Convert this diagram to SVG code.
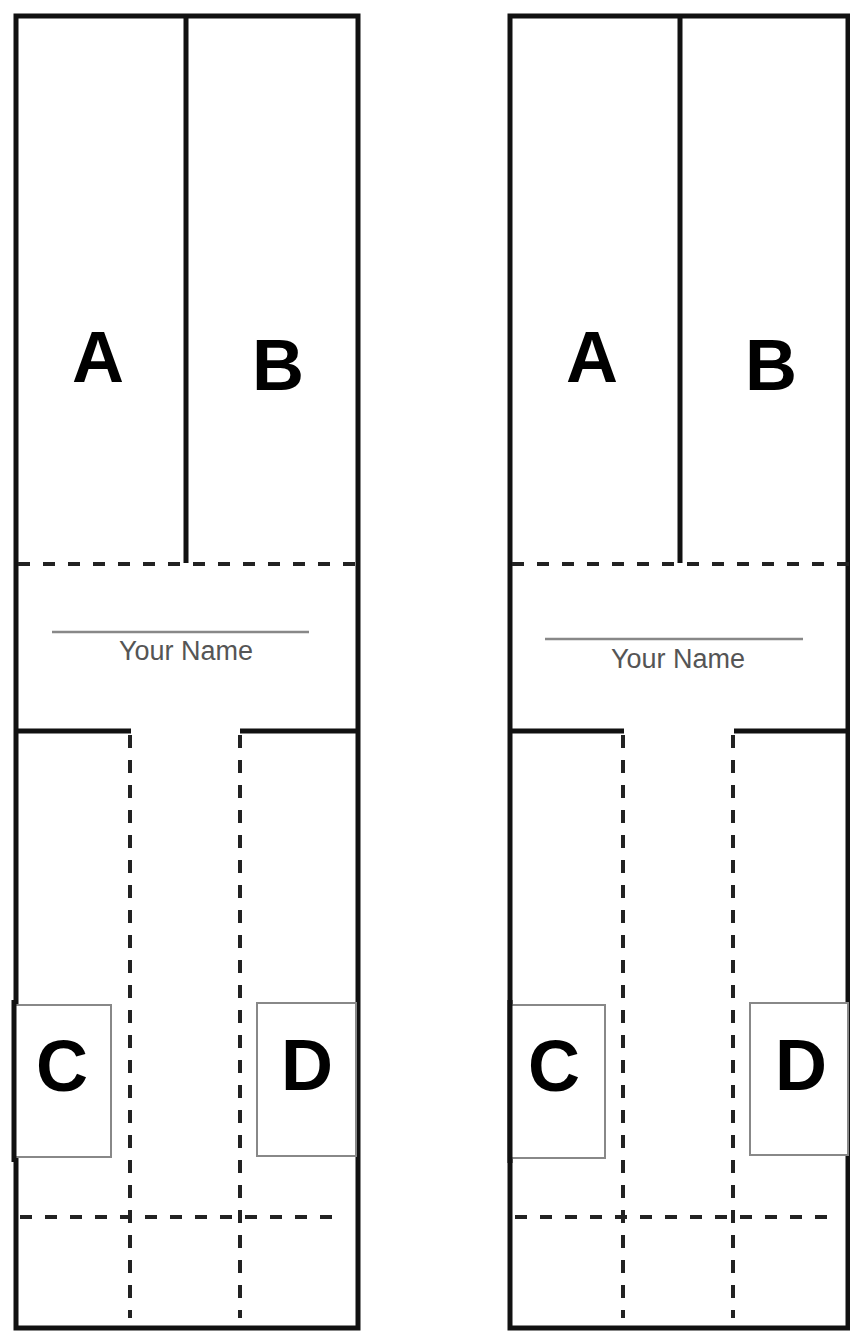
<svg xmlns="http://www.w3.org/2000/svg" width="850" height="1332" viewBox="0 0 850 1332">
<style>
.border{fill:none;stroke:#111;stroke-width:5}
.solid{stroke:#111;stroke-width:5;fill:none}
.fold{stroke:#222;stroke-width:4;stroke-dasharray:12 13;fill:none}
.vfold{stroke:#222;stroke-width:4;stroke-dasharray:13 12;fill:none}
.box{fill:#fff;stroke:#888;stroke-width:2}
.nameline{stroke:#888;stroke-width:2.5}
.big{font-family:"Liberation Sans",Arial,sans-serif;font-weight:bold;font-size:72px;fill:#000;text-anchor:middle}
.name{font-family:"Liberation Sans",Arial,sans-serif;font-size:27px;fill:#555;text-anchor:middle}
</style>
<rect width="850" height="1332" fill="#fff"/>

<g id="panel-left">
  <rect class="border" x="16" y="16" width="342" height="1312"/>
  <g id="left-A"><text class="big" x="98" y="382">A</text></g>
  <g id="left-B"><text class="big" x="278" y="390">B</text></g>
  <line class="solid" x1="186" y1="16" x2="186" y2="563"/>
  <g id="left-name">
    <line class="nameline" x1="52" y1="632" x2="309" y2="632"/>
    <text class="name" x="186" y="660">Your Name</text>
  </g>
  <line class="solid" x1="18" y1="731" x2="131" y2="731"/>
  <line class="solid" x1="240" y1="731" x2="356" y2="731"/>
  <g id="left-C">
    <rect class="box" x="14" y="1005" width="97" height="152"/>
    <line class="solid" x1="14" y1="1000" x2="14" y2="1162"/>
    <text class="big" x="62" y="1091">C</text>
  </g>
  <g id="left-D">
    <rect class="box" x="257" y="1003" width="99" height="153"/>
    <text class="big" x="307" y="1090">D</text>
  </g>
</g>

<g id="panel-right">
  <rect class="border" x="510" y="16" width="338" height="1312"/>
  <g id="right-A"><text class="big" x="592" y="382">A</text></g>
  <g id="right-B"><text class="big" x="771" y="390">B</text></g>
  <line class="solid" x1="680" y1="16" x2="680" y2="563"/>
  <g id="right-name">
    <line class="nameline" x1="545" y1="639" x2="803" y2="639"/>
    <text class="name" x="678" y="668">Your Name</text>
  </g>
  <line class="solid" x1="512" y1="731" x2="624" y2="731"/>
  <line class="solid" x1="734" y1="731" x2="850" y2="731"/>
  <g id="right-C">
    <rect class="box" x="510" y="1005" width="95" height="153"/>
    <line class="solid" x1="510" y1="1000" x2="510" y2="1163"/>
    <text class="big" x="554" y="1091">C</text>
  </g>
  <g id="right-D">
    <rect class="box" x="750" y="1003" width="98" height="152"/>
    <text class="big" x="801" y="1090">D</text>
  </g>
</g>

<g id="connectors">
  <line class="fold" x1="18" y1="564" x2="356" y2="564"/>
  <line class="vfold" x1="130" y1="735" x2="130" y2="1318"/>
  <line class="vfold" x1="240" y1="735" x2="240" y2="1318"/>
  <line class="fold" x1="20" y1="1217" x2="340" y2="1217"/>
  <line class="fold" x1="512" y1="564" x2="850" y2="564"/>
  <line class="vfold" x1="623" y1="735" x2="623" y2="1318"/>
  <line class="vfold" x1="733" y1="735" x2="733" y2="1318"/>
  <line class="fold" x1="515" y1="1217" x2="833" y2="1217"/>
</g>
</svg>
